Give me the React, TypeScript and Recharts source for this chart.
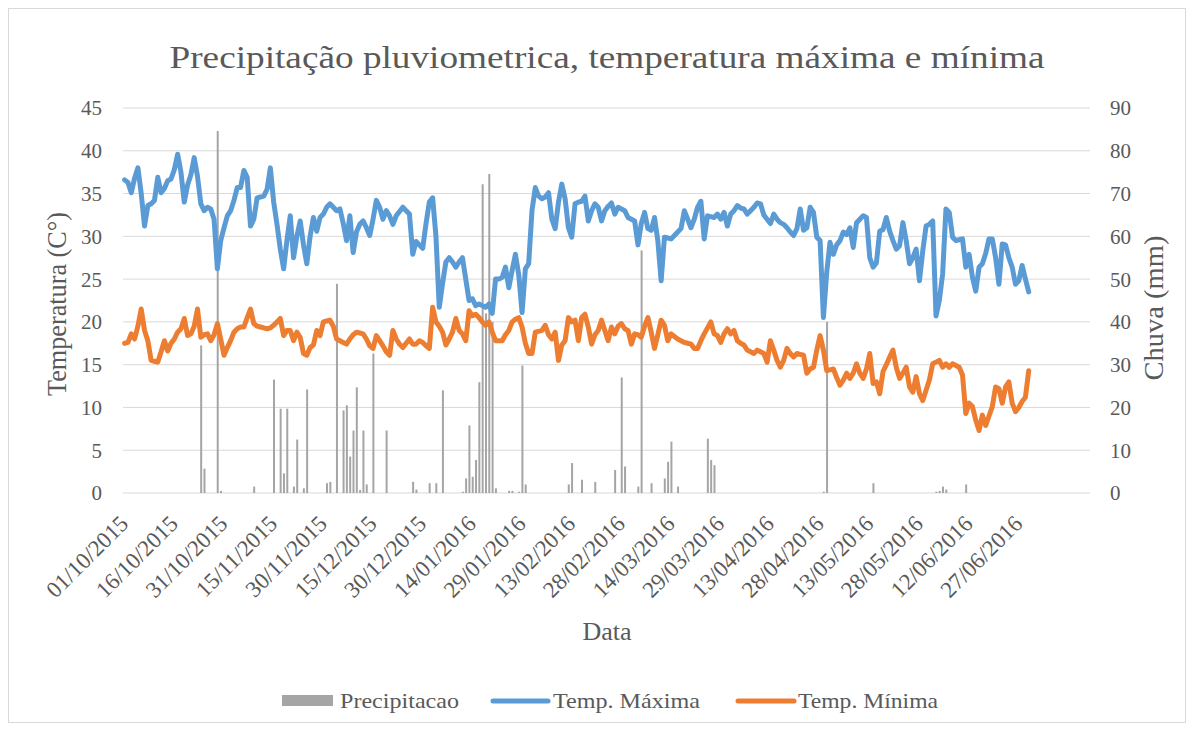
import React from 'react'
import { ComposedChart, Bar, Line, XAxis, YAxis, CartesianGrid } from 'recharts'

// daily values, 01/10/2015 .. 30/06/2016, one array per month
const maxOut = [36.6, 36.3, 35.1, 36.8, 38.0, 35.0, 31.2, 33.6, 33.8, 34.2, 36.9, 35.1, 35.6, 36.5, 36.7, 37.8, 39.6, 37.5, 34.0, 36.0, 37.2, 39.2, 37.0, 33.8, 33.0, 33.4, 33.2, 32.0, 26.2, 29.5, 31.0]
const maxNov = [32.4, 33.0, 34.2, 35.7, 35.7, 37.7, 36.9, 31.2, 32.0, 34.5, 34.6, 34.7, 35.5, 38.0, 34.0, 31.4, 28.5, 26.2, 29.5, 32.4, 27.5, 30.0, 31.8, 29.0, 26.8, 30.0, 32.2, 30.6, 32.2, 32.6]
const maxDez = [33.4, 33.8, 33.4, 33.0, 33.2, 31.5, 29.5, 32.4, 28.1, 30.5, 31.4, 31.8, 31.0, 30.1, 32.0, 34.2, 33.4, 32.0, 33.0, 32.4, 31.4, 32.4, 32.9, 33.4, 33.0, 32.6, 27.9, 29.4, 29.0, 28.6, 31.5]
const maxJan = [34.0, 34.5, 30.0, 21.7, 24.5, 27.0, 27.5, 27.0, 26.4, 27.0, 27.5, 25.0, 22.5, 22.7, 21.9, 22.1, 21.9, 21.7, 22.1, 21.0, 25.0, 25.0, 25.2, 26.4, 24.0, 26.0, 27.9, 25.5, 21.1, 26.2, 26.8]
const maxFev = [33.0, 35.7, 34.7, 34.4, 34.6, 35.1, 32.0, 30.9, 34.0, 36.1, 34.4, 31.0, 29.9, 33.8, 34.0, 34.1, 34.7, 31.8, 33.0, 33.8, 33.4, 31.8, 33.0, 33.5, 33.9, 32.6, 33.4, 33.2, 33.0]
const maxMar = [32.2, 32.0, 31.8, 29.0, 31.5, 32.8, 30.9, 30.7, 32.2, 29.5, 24.8, 29.9, 29.8, 29.7, 30.1, 30.5, 30.9, 33.0, 32.0, 31.0, 32.0, 33.4, 34.1, 29.7, 32.4, 32.3, 32.2, 32.6, 32.0, 32.8, 31.2]
const maxAbr = [32.6, 33.0, 33.6, 33.3, 33.2, 32.6, 33.0, 33.4, 33.9, 33.8, 32.5, 32.0, 31.5, 32.6, 32.0, 31.6, 31.4, 31.0, 30.5, 30.1, 30.9, 33.2, 30.7, 31.0, 33.4, 32.8, 29.9, 29.5, 20.5, 25.8]
const maxMai = [29.3, 27.9, 29.0, 29.5, 30.5, 30.2, 31.0, 28.7, 31.6, 32.0, 32.4, 32.2, 27.5, 26.4, 26.9, 30.6, 30.8, 32.2, 30.6, 29.5, 28.5, 28.9, 31.6, 29.5, 26.8, 27.5, 28.5, 24.8, 28.3, 31.2, 31.4]
const maxJun = [31.8, 20.7, 22.5, 25.6, 33.2, 32.8, 29.9, 29.5, 29.6, 29.7, 26.4, 27.9, 25.2, 23.6, 26.4, 26.8, 28.0, 29.7, 29.7, 27.5, 24.4, 29.1, 29.0, 27.5, 26.4, 24.4, 24.8, 26.6, 25.0, 23.5]

const minOut = [17.5, 17.6, 18.6, 18.0, 19.5, 21.5, 19.0, 17.8, 15.5, 15.4, 15.3, 16.5, 17.8, 16.6, 17.5, 18.0, 18.8, 19.2, 20.4, 18.4, 18.6, 19.5, 21.5, 18.2, 18.5, 18.6, 17.8, 18.5, 19.8, 18.0, 16.1]
const minNov = [17.0, 17.8, 18.8, 19.2, 19.4, 19.4, 20.5, 21.5, 19.8, 19.5, 19.4, 19.3, 19.2, 19.3, 19.6, 20.0, 20.4, 18.4, 19.0, 19.0, 17.8, 18.8, 18.2, 16.3, 16.1, 17.0, 17.3, 19.0, 18.4, 20.0]
const minDez = [20.1, 20.2, 19.5, 18.0, 17.8, 17.6, 17.4, 18.0, 18.5, 18.8, 18.7, 18.6, 18.0, 17.2, 16.9, 18.4, 17.8, 17.2, 16.5, 16.1, 19.0, 18.0, 17.4, 17.0, 17.5, 18.0, 17.4, 17.4, 17.8, 17.6, 17.2]
const minJan = [16.9, 21.7, 20.0, 19.5, 18.8, 17.3, 18.0, 18.8, 20.4, 19.0, 18.6, 17.8, 21.3, 20.7, 20.9, 20.5, 20.0, 19.6, 20.0, 18.8, 17.8, 17.8, 17.8, 18.5, 19.0, 20.0, 20.3, 20.5, 19.4, 17.5, 16.3]
const minFev = [16.3, 18.8, 18.9, 19.0, 19.6, 18.5, 18.0, 18.8, 15.5, 17.3, 17.8, 20.5, 20.0, 20.2, 17.8, 20.5, 20.9, 19.4, 17.4, 18.5, 19.0, 20.2, 19.0, 17.8, 19.4, 18.6, 19.5, 19.8, 19.2]
const minMar = [19.0, 17.4, 18.6, 18.5, 18.2, 19.5, 20.5, 18.8, 16.9, 18.5, 20.2, 19.6, 17.8, 18.6, 18.3, 18.0, 17.8, 17.6, 17.5, 17.4, 16.9, 16.9, 17.8, 18.6, 19.3, 20.0, 18.6, 18.4, 17.6, 18.6, 19.2]
const minAbr = [18.6, 19.0, 17.8, 17.5, 17.3, 16.7, 16.5, 16.3, 16.7, 16.5, 16.3, 15.3, 17.8, 16.7, 15.5, 14.7, 15.5, 16.9, 16.3, 15.9, 16.3, 16.2, 16.1, 14.0, 14.5, 14.7, 16.7, 18.4, 16.7, 14.3]
const minMai = [14.4, 14.5, 13.5, 12.6, 13.2, 14.0, 13.4, 14.0, 15.1, 14.0, 13.4, 14.5, 16.3, 12.8, 13.0, 11.6, 14.2, 15.0, 15.9, 16.7, 14.7, 13.4, 14.0, 14.7, 12.4, 11.8, 13.6, 11.6, 10.8, 12.0, 13.2]
const minJun = [15.1, 15.3, 15.5, 14.7, 15.1, 14.7, 15.1, 14.9, 14.7, 13.8, 9.3, 10.5, 10.1, 8.5, 7.3, 9.1, 7.9, 9.0, 10.1, 12.4, 12.2, 10.5, 12.4, 13.0, 10.5, 9.5, 10.0, 10.7, 11.2, 14.3]

const chuvaOut = [0, 0, 0, 0, 0, 0, 0, 0, 0, 0, 0, 0, 0, 0, 0, 0, 0, 0, 0, 0, 0, 0, 0, 34.5, 5.7, 0, 0, 0, 84.6, 0.5, 0]
const chuvaNov = [0, 0, 0, 0, 0, 0, 0, 0, 1.5, 0, 0, 0, 0, 0, 26.5, 0, 19.7, 4.6, 19.7, 0, 1.5, 12.5, 0, 1.1, 24.2, 0, 0, 0, 0, 0]
const chuvaDez = [2.3, 2.6, 0, 48.9, 0, 19.3, 20.5, 8.5, 14.6, 24.7, 0.7, 14.6, 2.0, 0, 32.6, 0, 0, 0, 14.6, 0, 0, 0, 0, 0, 0, 0, 2.6, 0.8, 0, 0, 0]
const chuvaJan = [2.3, 0, 2.3, 0, 24.0, 0, 0, 0, 0, 0, 0.3, 3.4, 15.8, 3.8, 7.7, 25.9, 72.2, 42.0, 74.6, 40.0, 1.1, 0, 0, 0, 0.5, 0.5, 0, 0.3, 29.8, 2.0, 0]
const chuvaFev = [0, 0, 0, 0, 0, 0, 0, 0, 0, 0, 0, 2.0, 7.0, 0, 0, 3.1, 0, 0, 0, 2.6, 0, 0, 0, 0, 0, 5.4, 0, 27.0, 6.2]
const chuvaMar = [0, 0, 0, 1.5, 56.7, 0, 0, 2.3, 0, 0, 0, 3.4, 7.3, 12.0, 0, 1.5, 0, 0, 0, 0, 0, 0, 0, 0, 12.7, 7.7, 6.5, 0, 0, 0, 0]
const chuvaAbr = [0, 0, 0, 0, 0, 0, 0, 0, 0, 0, 0, 0, 0, 0, 0, 0, 0, 0, 0, 0, 0, 0, 0, 0, 0, 0, 0, 0, 0.3, 40.0]
const chuvaMai = [0, 0, 0, 0, 0, 0, 0, 0, 0, 0, 0, 0, 0, 2.3, 0, 0, 0, 0, 0, 0, 0, 0, 0, 0, 0, 0, 0, 0, 0, 0, 0]
const chuvaJun = [0, 0.3, 0.5, 1.5, 0.8, 0, 0, 0, 0, 0, 2.0, 0, 0, 0, 0, 0, 0, 0, 0, 0, 0, 0, 0, 0, 0, 0, 0, 0, 0, 0]

const tickLabels = [
  '01/10/2015', '16/10/2015', '31/10/2015', '15/11/2015', '30/11/2015', '15/12/2015', '30/12/2015',
  '14/01/2016', '29/01/2016', '13/02/2016', '28/02/2016', '14/03/2016', '29/03/2016', '13/04/2016',
  '28/04/2016', '13/05/2016', '28/05/2016', '12/06/2016', '27/06/2016',
]

const tempMax = [...maxOut, ...maxNov, ...maxDez, ...maxJan, ...maxFev, ...maxMar, ...maxAbr, ...maxMai, ...maxJun]
const tempMin = [...minOut, ...minNov, ...minDez, ...minJan, ...minFev, ...minMar, ...minAbr, ...minMai, ...minJun]
const chuva = [...chuvaOut, ...chuvaNov, ...chuvaDez, ...chuvaJan, ...chuvaFev, ...chuvaMar, ...chuvaAbr, ...chuvaMai, ...chuvaJun]

// the date axis runs a couple of weeks past the last reading
const N_DIAS = 292
const pad = (n: number) => String(n).padStart(2, '0')
const data = Array.from({ length: N_DIAS }, (_, i) => {
  const d = new Date(2015, 9, 1 + i)
  return {
    data: `${pad(d.getDate())}/${pad(d.getMonth() + 1)}/${d.getFullYear()}`,
    max: tempMax[i] ?? null,
    min: tempMin[i] ?? null,
    chuva: chuva[i] ? chuva[i] : null,
  }
})

const FONT = 'Liberation Serif, Times New Roman, serif'
const GREY = '#595959'
const W = 1178
const H = 715

function DateTick({ x, y, payload }: any) {
  return (
    <g transform={`translate(${x + 5},${y + 30})`}>
      <text textAnchor="end" transform="rotate(-45)" fontSize={23} fill={GREY} fontFamily={FONT}>
        {payload.value}
      </text>
    </g>
  )
}

export default function App() {
  return (
    <div style={{ position: 'relative', width: W, height: H }}>
      <ComposedChart width={W} height={H} data={data} margin={{ top: 100, right: 0, bottom: 0, left: 0 }}>
        <CartesianGrid vertical={false} stroke="#d9d9d9" yAxisId="temp" />
        <XAxis
          dataKey="data"
          ticks={tickLabels}
          interval={0}
          tick={<DateTick />}
          tickLine={false}
          axisLine={false}
          tickSize={0}
          height={230}
        />
        <YAxis
          yAxisId="temp"
          domain={[0, 45]}
          ticks={[0, 5, 10, 15, 20, 25, 30, 35, 40, 45]}
          width={115}
          tickLine={false}
          axisLine={false}
          tickSize={0}
          tickMargin={21}
          tick={{ fontSize: 21, fill: GREY, fontFamily: FONT }}
        />
        <YAxis
          yAxisId="chuva"
          orientation="right"
          domain={[0, 90]}
          ticks={[0, 10, 20, 30, 40, 50, 60, 70, 80, 90]}
          width={96}
          tickLine={false}
          axisLine={false}
          tickSize={0}
          tickMargin={20}
          tick={{ fontSize: 21, fill: GREY, fontFamily: FONT, textAnchor: 'start' }}
        />
        <Bar yAxisId="chuva" dataKey="chuva" name="Precipitacao" fill="#A5A5A5" barSize={2} isAnimationActive={false} />
        <Line
          yAxisId="temp"
          type="linear"
          dataKey="max"
          name="Temp. Máxima"
          stroke="#5B9BD5"
          strokeWidth={5}
          strokeLinejoin="round"
          strokeLinecap="round"
          dot={false}
          isAnimationActive={false}
        />
        <Line
          yAxisId="temp"
          type="linear"
          dataKey="min"
          name="Temp. Mínima"
          stroke="#ED7D31"
          strokeWidth={5}
          strokeLinejoin="round"
          strokeLinecap="round"
          dot={false}
          isAnimationActive={false}
        />
      </ComposedChart>

      {/* titles, legend and frame */}
      <svg width={W} height={H} style={{ position: 'absolute', left: 0, top: 0, pointerEvents: 'none' }}>
        <rect x={0.5} y={0.5} width={W - 1} height={H - 1} fill="none" stroke="#d9d9d9" />
        <text x={599} y={60} textAnchor="middle" fontSize={32} fill={GREY} fontFamily={FONT} textLength={875} lengthAdjust="spacingAndGlyphs">
          Precipitação pluviometrica, temperatura máxima e mínima
        </text>
        <text transform="translate(58,296) rotate(-90)" textAnchor="middle" fontSize={27} fill={GREY} fontFamily={FONT} textLength={184} lengthAdjust="spacingAndGlyphs">
          Temperatura (C°)
        </text>
        <text transform="translate(1155,300) rotate(-90)" textAnchor="middle" fontSize={27} fill={GREY} fontFamily={FONT} textLength={145} lengthAdjust="spacingAndGlyphs">
          Chuva (mm)
        </text>
        <text x={599} y={632} textAnchor="middle" fontSize={26} fill={GREY} fontFamily={FONT}>
          Data
        </text>
        <rect x={274} y={687} width={51} height={11} fill="#A5A5A5" />
        <text x={332} y={700} fontSize={22} fill={GREY} fontFamily={FONT} textLength={119} lengthAdjust="spacingAndGlyphs">Precipitacao</text>
        <line x1={485} y1={693} x2={540} y2={693} stroke="#5B9BD5" strokeWidth={5} strokeLinecap="round" />
        <text x={545} y={700} fontSize={22} fill={GREY} fontFamily={FONT} textLength={147} lengthAdjust="spacingAndGlyphs">Temp. Máxima</text>
        <line x1={730} y1={693} x2={786} y2={693} stroke="#ED7D31" strokeWidth={5} strokeLinecap="round" />
        <text x={790} y={700} fontSize={22} fill={GREY} fontFamily={FONT} textLength={140} lengthAdjust="spacingAndGlyphs">Temp. Mínima</text>
      </svg>
    </div>
  )
}
